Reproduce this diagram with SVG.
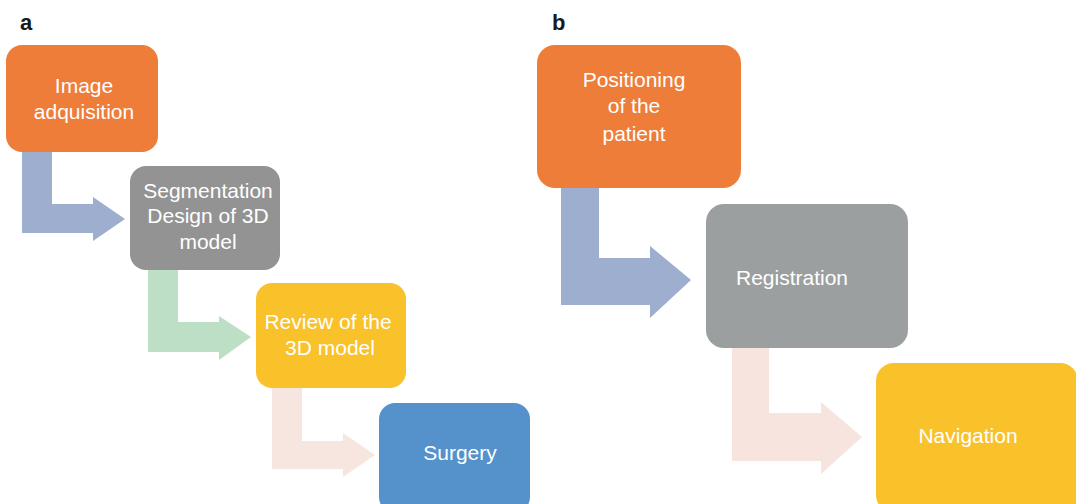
<svg xmlns="http://www.w3.org/2000/svg" width="1076" height="504" viewBox="0 0 1076 504">
<style>
.lbl{font-family:"Liberation Sans",Arial,Helvetica,sans-serif;font-size:21px;fill:#ffffff;text-anchor:middle}
.pl{font-family:"Liberation Sans",Arial,Helvetica,sans-serif;font-size:22px;font-weight:bold;fill:#1a1a1a}
</style>
<rect width="1076" height="504" fill="#ffffff"/>
<text class="pl" x="20" y="30">a</text>
<text class="pl" x="552" y="30">b</text>
<g id="connectors">
<polygon fill="#9DAECE" points="22,152 52,152 52,204 93,204 93,197 125,219 93,241 93,233 22,233"/>
<polygon fill="#BCDFC6" points="148,270 178,270 178,322 219,322 219,316 251,337 219,360 219,352 148,352"/>
<polygon fill="#F6E6DF" points="272,388 302,388 302,441 343,441 343,433 375,455 343,477 343,469 272,469"/>
<polygon fill="#9DAECE" points="561,188 599,188 599,258 650,258 650,246 691,280 650,318 650,305 561,305"/>
<polygon fill="#F8E4DE" points="732,348 769,348 769,413 821,413 821,402 862,437 821,474 821,461 732,461"/>
</g>
<g id="a1"><rect x="6" y="45" width="152" height="107" rx="16" fill="#EE7D3A"/>
<text class="lbl" x="84" y="93">Image</text><text class="lbl" x="84" y="119">adquisition</text></g>
<g id="a2"><rect x="130" y="166" width="150" height="104" rx="16" fill="#939393"/>
<text class="lbl" x="208" y="198">Segmentation</text><text class="lbl" x="208" y="223">Design of 3D</text><text class="lbl" x="208" y="249">model</text></g>
<g id="a3"><rect x="256" y="283" width="150" height="105" rx="16" fill="#F9C22B"/>
<text class="lbl" x="328" y="329">Review of the</text><text class="lbl" x="330" y="355">3D model</text></g>
<g id="a4"><rect x="379" y="403" width="151" height="110" rx="16" fill="#5592CB"/>
<text class="lbl" x="460" y="460">Surgery</text></g>
<g id="b1"><rect x="537" y="45" width="204" height="143" rx="18" fill="#EE7D3A"/>
<text class="lbl" x="634" y="87">Positioning</text><text class="lbl" x="634" y="113">of the</text><text class="lbl" x="634" y="141">patient</text></g>
<g id="b2"><rect x="706" y="204" width="202" height="144" rx="18" fill="#9C9FA0"/>
<text class="lbl" x="792" y="285">Registration</text></g>
<g id="b3"><rect x="876" y="363" width="202" height="150" rx="18" fill="#F9C22B"/>
<text class="lbl" x="968" y="443">Navigation</text></g>
</svg>
